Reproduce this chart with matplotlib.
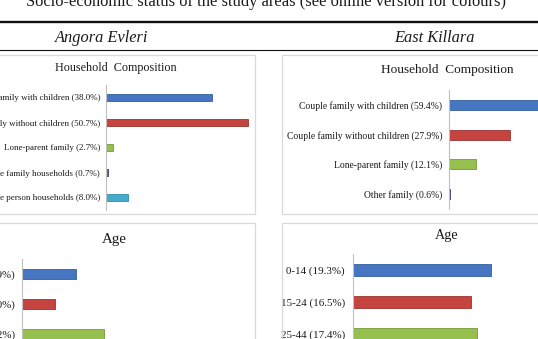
import matplotlib
matplotlib.use('Agg')
import matplotlib.pyplot as plt
from matplotlib.patches import Rectangle
from matplotlib.lines import Line2D

plt.rcParams['font.family'] = ['Liberation Serif', 'DejaVu Serif']

W, H = 538, 339

# data
hh_ae_labels = ['Couple family with children', 'Couple family without children',
                'Lone-parent family', 'Multiple family households', 'One person households']
hh_ae_values = [38.0, 50.7, 2.7, 0.7, 8.0]

hh_ek_labels = ['Couple family with children', 'Couple family without children',
                'Lone-parent family', 'Other family']
hh_ek_values = [59.4, 27.9, 12.1, 0.6]

age_ae_labels = ['0-14', '15-24', '25-44']
age_ae_values = [17.9, 11.0, 27.2]

age_ek_labels = ['0-14', '15-24', '25-44']
age_ek_values = [19.3, 16.5, 17.4]

colors = ['#4676C2', '#C6443F', '#96C04E', '#7A62A6', '#45AACB']
edges = ['#34609F', '#9A3431', '#76993A', '#3E3270', '#348AA6']

fig = plt.figure(figsize=(W / 100, H / 100), dpi=100)
fig.patch.set_facecolor('white')


def px_axes(left, top, right, bottom):
    return fig.add_axes([left / W, 1 - bottom / H, (right - left) / W, (bottom - top) / H])


def hline(y, lw):
    fig.add_artist(Line2D([0, 1], [1 - y / H, 1 - y / H], transform=fig.transFigure,
                          color='#111111', lw=lw))


def box(left, top, right, bottom):
    fig.add_artist(Rectangle((left / W, 1 - bottom / H), (right - left) / W, (bottom - top) / H,
                             transform=fig.transFigure, fill=False, ec='#d9d9d9', lw=0.9))


def ftext(x, y, s, **kw):
    fig.text(x / W, 1 - y / H, s, **kw)


def panel(left, top, row, right, nrows, labels, values, pxper, bh, fs, pad):
    bottom = top + row * nrows
    ax = px_axes(left, top, right, bottom)
    n = len(values)
    ylabels = ['%s (%.1f%%)' % (l, v) for l, v in zip(labels, values)]
    ax.barh(range(n), values, height=bh, color=colors[:n], edgecolor=edges[:n], linewidth=0.6)
    ax.set_xlim(0, (right - left) / pxper)
    ax.set_ylim(nrows - 0.5, -0.5)
    ax.set_yticks(range(n))
    ax.set_yticklabels(ylabels, fontsize=fs, color='#1a1a1a')
    ax.set_xticks([])
    ax.tick_params(axis='y', length=0, pad=pad)
    for s in ['top', 'right', 'bottom']:
        ax.spines[s].set_visible(False)
    ax.spines['left'].set_color('#bfbfbf')
    ax.spines['left'].set_linewidth(0.8)
    ax.patch.set_alpha(0)
    return ax


# header
ftext(266, 6.5, 'Socio-economic status of the study areas (see online version for colours)',
      ha='center', va='baseline', fontsize=11.9, color='#1a1a1a')
hline(21.5, 1.7)
ftext(102, 42, 'Angora Evleri', ha='center', va='baseline', fontsize=11.8, style='italic',
      color='#1a1a1a')
ftext(434.5, 42, 'East Killara', ha='center', va='baseline', fontsize=11.8, style='italic',
      color='#1a1a1a')
hline(50, 0.8)

# panel frames
box(-5, 54.5, 255, 214)
box(282, 54.5, 545, 214)
box(-5, 223, 255, 345)
box(282, 223, 545, 345)

# household composition
panel(105.7, 85, 25, 250, 5, hh_ae_labels, hh_ae_values, 2.81, 0.3, 6.45, 4)
ftext(116, 68, 'Household  Composition', ha='center', va='center', fontsize=8.7, color='#1a1a1a')

panel(449, 90, 29.75, 620, 4, hh_ek_labels, hh_ek_values, 2.2, 0.34, 6.95, 5)
ftext(447, 70, 'Household  Composition', ha='center', va='center', fontsize=9.5, color='#1a1a1a')

# age
panel(22, 259, 30, 250, 5, age_ae_labels, age_ae_values, 3.02, 0.36, 7.9, 5)
ftext(114.5, 240, 'Age', ha='center', va='center', fontsize=10.8, color='#1a1a1a')

panel(353, 254, 32, 620, 5, age_ek_labels, age_ek_values, 7.15, 0.35, 7.9, 5.8)
ftext(447, 235, 'Age', ha='center', va='center', fontsize=10.2, color='#1a1a1a')

fig.savefig('out.png', dpi=100)
